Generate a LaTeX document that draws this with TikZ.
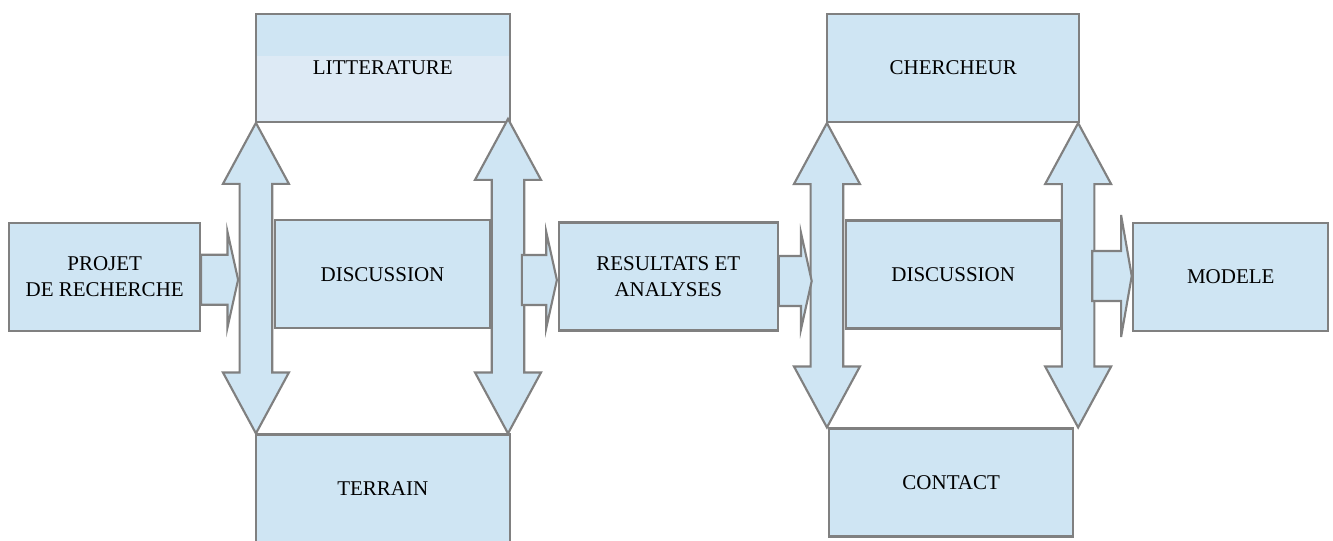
\documentclass[tikz,border=0pt]{standalone}
\usepackage{fontspec}
\setmainfont{Liberation Serif}
\usetikzlibrary{calc}

\definecolor{boxfill}{HTML}{CFE5F3}
\definecolor{boxlight}{HTML}{DDEAF5}
\definecolor{boxline}{HTML}{808080}

\tikzset{
  box/.style={draw=boxline, fill=boxfill, line width=1.6pt, minimum height=81pt,
    inner sep=0pt, align=center, font=\fontsize{15.75}{19.2}\selectfont},
  blockarrow/.style={draw=boxline, fill=boxfill, line width=1.6pt, line join=miter}
}

% horizontal block arrow: [head half width] start, tip
\newcommand{\harrow}[3][36pt]{%
  \draw[blockarrow] let \p1=(#2), \p2=(#3) in
    (\x1,\y1+18.75pt) -- (\x2-8pt,\y1+18.75pt) -- (\x2-8pt,\y1+#1) -- (\x2,\y1)
    -- (\x2-8pt,\y1-#1) -- (\x2-8pt,\y1-18.75pt) -- (\x1,\y1-18.75pt) -- cycle;}

% vertical double block arrow: top tip, bottom box
\newcommand{\varrow}[2]{%
  \draw[blockarrow] let \p1=(#1), \p2=(#2) in
    (\x1,\y1) -- (\x1+24.75pt,\y1-45.75pt) -- (\x1+12.2pt,\y1-45.75pt)
    -- (\x1+12.2pt,\y2+45.75pt) -- (\x1+24.75pt,\y2+45.75pt) -- (\x1,\y2)
    -- (\x1-24.75pt,\y2+45.75pt) -- (\x1-12.2pt,\y2+45.75pt)
    -- (\x1-12.2pt,\y1-45.75pt) -- (\x1-24.75pt,\y1-45.75pt) -- cycle;}

\begin{document}
\begin{tikzpicture}[x=0.75pt,y=-0.75pt]
  \useasboundingbox (0,0) rectangle (1333,540);

  % First group
  \node[box, minimum width=143pt] (projet) at (104.7,276.7) {PROJET\\DE RECHERCHE};
  \node[box, minimum width=190.7pt,
    path picture={\fill[boxlight] ([yshift=-31.5pt]path picture bounding box.north west)
      rectangle (path picture bounding box.south east);}] (litt) at (382.8,67.8) {LITTERATURE};
  \node[box, minimum width=161.25pt] (disc1) at (382.5,274.3) {DISCUSSION};
  \node[box, minimum width=190.7pt] (terrain) at (382.8,488.5) {TERRAIN};

  % Results
  \node[box, minimum width=164pt] (resultats) at (668.3,276.5) {RESULTATS ET\\ANALYSES};

  % Second group
  \node[box, minimum width=188.8pt] (chercheur) at (953.2,68) {CHERCHEUR};
  \node[box, minimum width=161.25pt] (disc2) at (953.2,274.5) {DISCUSSION};
  \node[box, minimum width=183.2pt] (contact) at (951.2,482.5) {CONTACT};

  \node[box, minimum width=146.25pt] (modele) at (1230.8,277) {MODELE};

  % Double arrows
  \varrow{[xshift=1pt]litt.south west}{terrain.north}
  \varrow{[xshift=-2.25pt,yshift=3pt]litt.south east}{terrain.north}
  \varrow{[xshift=0.5pt]chercheur.south west}{contact.north}
  \varrow{[xshift=-1.5pt]chercheur.south east}{contact.north}

  % Flow arrows
  \harrow{$(projet.east)+(0,3)$}{$(projet.east)+(37,3)$}
  \harrow{$(resultats.west)+(-36,3.5)$}{$(resultats.west)+(-1,3.5)$}
  \harrow{$(resultats.east)+(0,4.5)$}{$(resultats.east)+(33,4.5)$}
  \harrow[45.75pt]{$(modele.west)+(-40,-1)$}{$(modele.west)+(-0.5,-1)$}
\end{tikzpicture}
\end{document}
